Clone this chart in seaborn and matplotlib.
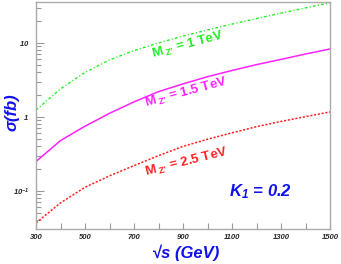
import matplotlib
matplotlib.use("Agg")
import matplotlib.pyplot as plt
import matplotlib.ticker as mticker
import seaborn as sns
import pandas as pd
import numpy as np

# sqrt(s) in GeV
sqrts = [300, 400, 500, 600, 700, 800, 900, 1000, 1100, 1200, 1300, 1400, 1500]

# cross sections in fb
sigma_1TeV = [1.24, 2.4, 4.0, 5.9, 7.9, 10.0, 12.4, 15.0, 18.0, 21.4, 25.3, 29.8, 35.0]
sigma_15TeV = [0.25, 0.48, 0.75, 1.12, 1.6, 2.2, 2.8, 3.5, 4.25, 5.1, 6.0, 7.1, 8.3]
sigma_25TeV = [0.037, 0.069, 0.112, 0.16, 0.22, 0.30, 0.40, 0.50, 0.61, 0.74, 0.87, 1.01, 1.17]

xticks = [300, 500, 700, 900, 1100, 1300, 1500]
yticks = [0.1, 1, 10]
ytick_labels = ["$10^{-1}$", "$1$", "$10$"]

green = "#22ee22"
magenta = "#ff22ff"
red = "#ff2222"
blue = "#1111ee"

sns.set_theme(style="ticks")
plt.rcParams['font.family'] = ['Liberation Sans', 'DejaVu Sans']
plt.rcParams['mathtext.fontset'] = 'custom'
plt.rcParams['mathtext.rm'] = 'Liberation Sans:italic:bold'
plt.rcParams['mathtext.it'] = 'Liberation Sans:italic:bold'
plt.rcParams['mathtext.bf'] = 'Liberation Sans:bold'

f = plt.figure(figsize=(3.41, 2.64), dpi=100)
ax = f.add_axes([0.1056, 0.1326, 0.8622, 0.8598])

d = pd.DataFrame({'sqrts': sqrts, 'm1': sigma_1TeV, 'm15': sigma_15TeV, 'm25': sigma_25TeV})

sns.lineplot(x='sqrts', y='m1', data=d, ax=ax, color=green, lw=1.0,
             linestyle=(0, (2.0, 1.6, 0.8, 1.6)))
sns.lineplot(x='sqrts', y='m15', data=d, ax=ax, color=magenta, lw=1.1)
sns.lineplot(x='sqrts', y='m25', data=d, ax=ax, color=red, lw=1.1,
             linestyle=(0, (1.4, 1.1)))

ax.set_yscale('log')
ax.set_xlim(300, 1500)
ax.set_ylim(0.0306, 35.8)

ax.set_xticks(xticks)
ax.set_xticklabels([str(v) for v in xticks], fontsize=5.5, fontweight='bold', fontstyle='italic')
ax.xaxis.set_minor_locator(mticker.MultipleLocator(100))
ax.set_yticks(yticks)
ax.set_yticklabels(ytick_labels, fontsize=5.5)
ax.yaxis.set_minor_locator(mticker.LogLocator(base=10, subs=np.arange(2, 10)))
ax.yaxis.set_minor_formatter(mticker.NullFormatter())

ax.tick_params(axis='both', which='both', direction='in', color='#999999')
ax.tick_params(axis='x', which='major', length=4, width=0.8, pad=3.5)
ax.tick_params(axis='x', which='minor', length=4, width=0.8)
ax.tick_params(axis='y', which='major', length=6, width=0.8, pad=5)
ax.tick_params(axis='y', which='minor', length=3.5, width=0.8)
for s in ax.spines.values():
  s.set_color('#aaaaaa')
  s.set_linewidth(1.0)

ax.set_xlabel("√s (GeV)", fontsize=12, fontweight='bold', fontstyle='italic', color=blue,
              va='center')
ax.xaxis.set_label_coords(0.51, -0.106)
ax.set_ylabel("σ(fb)", fontsize=12, fontweight='bold', fontstyle='italic', color=blue,
              va='center')
ax.yaxis.set_label_coords(-0.082, 0.515)

zlab = "$\\,_{\\mathbf{Z\u2019}}$"
ax.text(920, 9.4, "M" + zlab + " = 1 TeV", color=green, fontsize=9.5, fontweight='bold',
        rotation=15, ha='center', va='center')
ax.text(912, 2.11, "M" + zlab + " = 1.5 TeV", color=magenta, fontsize=9.5, fontweight='bold',
        rotation=15, ha='center', va='center')
ax.text(916, 0.24, "M" + zlab + " = 2.5 TeV", color=red, fontsize=9.5, fontweight='bold',
        rotation=14, ha='center', va='center')
ax.text(0.762, 0.163, "K$_{1}$ = 0.2", transform=ax.transAxes, color=blue, fontsize=12,
        fontweight='bold', fontstyle='italic', ha='center', va='center')

plt.savefig('out.png', dpi=100)
plt.close()
